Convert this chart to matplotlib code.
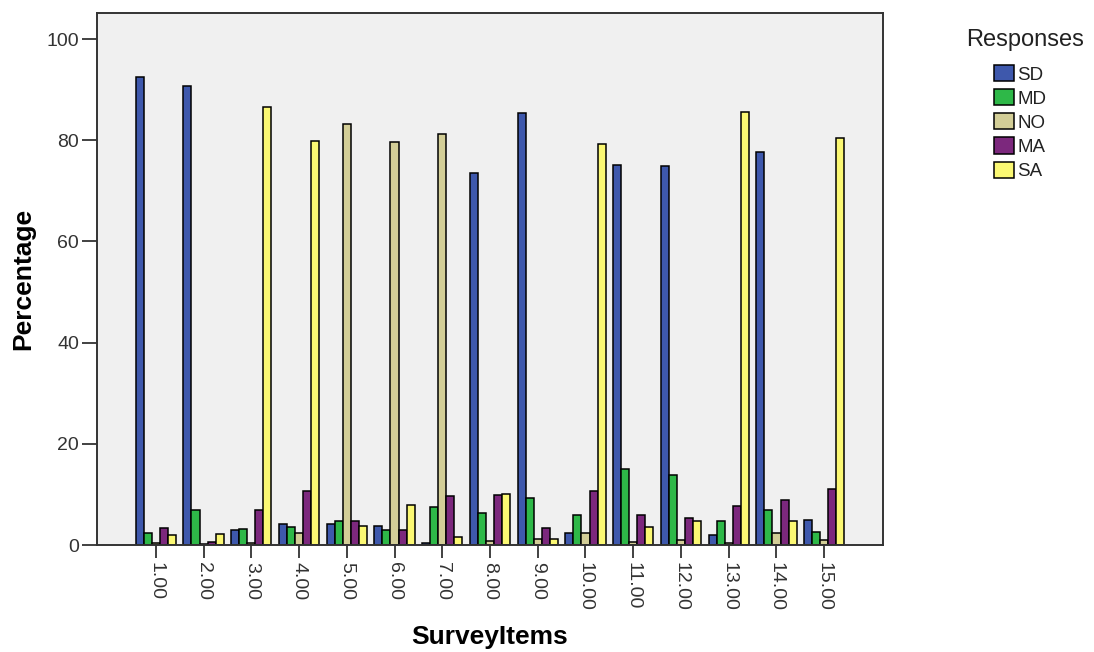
import numpy as np
import matplotlib
matplotlib.use("Agg")
from matplotlib import pyplot as plt
from matplotlib.patches import Patch

plt.rcParams['font.family'] = ['Liberation Sans', 'DejaVu Sans']

# survey items 1..15, percentage of each response
items = ['1.00', '2.00', '3.00', '4.00', '5.00', '6.00', '7.00', '8.00',
         '9.00', '10.00', '11.00', '12.00', '13.00', '14.00', '15.00']
responses = ['SD', 'MD', 'NO', 'MA', 'SA']

sd = [92.5, 90.7, 3.0, 4.2, 4.1, 3.8, 0.5, 73.6, 85.3, 2.4, 75.1, 74.9, 2.0, 77.6, 4.9]
md = [2.4, 6.9, 3.2, 3.6, 4.7, 2.9, 7.5, 6.3, 9.3, 6.0, 15.0, 13.8, 4.8, 6.9, 2.6]
no = [0.4, 0.3, 0.5, 2.3, 83.3, 79.6, 81.2, 0.8, 1.2, 2.3, 0.7, 1.1, 0.5, 2.3, 1.1]
ma = [3.3, 0.6, 7.0, 10.7, 4.7, 3.0, 9.6, 9.8, 3.4, 10.7, 5.9, 5.4, 7.7, 8.9, 11.0]
sa = [2.0, 2.2, 86.6, 79.8, 3.8, 8.0, 1.5, 10.0, 1.2, 79.2, 3.5, 4.8, 85.5, 4.8, 80.5]

colors = ['#3E58AC', '#2EB848', '#D3CE97', '#7C287D', '#FBF873']
series = [sd, md, no, ma, sa]

fig = plt.figure(figsize=(10.94, 6.52), dpi=100)
ax = fig.add_axes([0.0887, 0.164, 0.7184, 0.8165])
ax.set_facecolor('#F0F0F0')

x = np.arange(1, len(items) + 1)
w = 0.168
for k, vals in enumerate(series):
    ax.bar(x + (k - 2) * w, vals, width=w, color=colors[k],
           edgecolor='black', linewidth=1.1)

ax.set_xlim(1 - 1.23, len(items) + 1.23)
ax.set_ylim(0, 105.2)
ax.set_xticks(x)
ax.set_xticklabels(items, rotation=270, fontsize=14, color='#333333')
ax.set_yticks([0, 20, 40, 60, 80, 100])
ax.tick_params(axis='y', labelsize=14, labelcolor='#333333', length=11, width=1.3,
               colors='#333333', pad=2)
ax.tick_params(axis='x', length=9, width=1.3, colors='#333333', pad=3)
for s in ax.spines.values():
    s.set_linewidth(1.4)
    s.set_color('#333333')

ax.set_ylabel('Percentage', fontsize=19, fontweight='bold')
ax.yaxis.set_label_coords(-0.078, 0.5)
ax.set_xlabel('SurveyItems', fontsize=19, fontweight='bold')
ax.xaxis.set_label_coords(0.5, -0.15)

fig.text(1025 / 1094, 1 - 40 / 652, 'Responses', fontsize=17, color='#222222',
         ha='center', va='center')
handles = [Patch(facecolor=c, edgecolor='black', linewidth=1.1) for c in colors]
leg = fig.legend(handles, responses, loc='upper left',
                 bbox_to_anchor=(994 / 1094, 1 - 65 / 652), frameon=False, fontsize=13.5,
                 handlelength=1.05, handleheight=0.95, borderpad=0,
                 handletextpad=0.2, labelspacing=0.3, borderaxespad=0)
for t in leg.get_texts():
    t.set_color('#222222')

fig.savefig('out.png', dpi=100)
